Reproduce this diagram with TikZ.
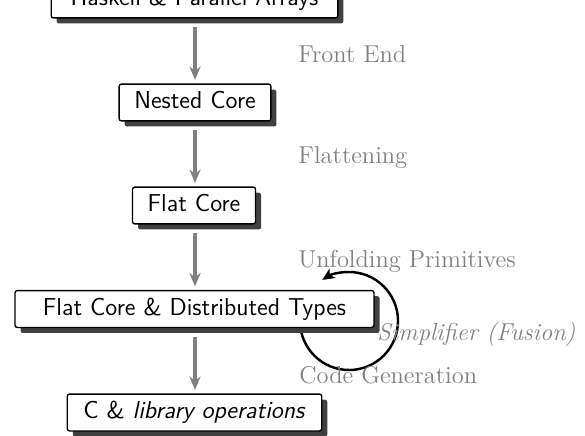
\documentclass[tikz,border=0pt]{standalone}
\usetikzlibrary{arrows.meta,shadows}
\begin{document}
\begin{tikzpicture}[x=0.45pt,y=0.45pt,
  stagebox/.style={draw=black, line width=0.6pt, fill=white, rounded corners=1pt,
    font=\fontsize{11}{13}\selectfont\sffamily, inner xsep=6.8pt, minimum height=15.8pt, text height=7.7pt, text depth=2.2pt,
    drop shadow={shadow xshift=2.5pt, shadow yshift=-2.5pt, fill=black!75, opacity=1}},
  flow/.style={draw=black!50, line width=1.4pt, shorten <=4pt, shorten >=1.6pt,
    -{Stealth[length=6pt,width=5pt,inset=2pt]}},
  passlabel/.style={text=black!50, anchor=base west, inner sep=0pt, font=\fontsize{11}{13}\selectfont}]
\useasboundingbox (0,0) rectangle (585,435);
% loop arrow (behind the boxes)
\coordinate (cc) at (349,114);
\draw[line width=1.1pt, -{Stealth[length=5.5pt,width=5pt,inset=1.5pt]}]
  ([shift={(175:22.05pt)}]cc) arc[start angle=175, end angle=483, radius=22.05pt];
% boxes
\node[stagebox, minimum width=129pt] (hs) at (194.5,435.5) {Haskell \& Parallel Arrays};
\node[stagebox] (nc) at (195,332.5) {Nested Core};
\node[stagebox] (fc) at (194,229.5) {Flat Core};
\node[stagebox, minimum width=161.5pt] (fd) at (194.5,126) {Flat Core \& Distributed Types};
\node[stagebox, minimum width=114.5pt] (co) at (194.5,22.5) {C \& \textit{library operations}};
% arrows
\draw[flow] (hs.south -| 195,0) -- (nc.north -| 195,0);
\draw[flow] (nc.south -| 195,0) -- (fc.north -| 195,0);
\draw[flow] (fc.south -| 195,0) -- (fd.north -| 195,0);
\draw[flow] (fd.south -| 195,0) -- (co.north -| 195,0);
% labels
\node[passlabel] (l1) at (298,373) {Front End};
\node[passlabel] (l2) at (298,272) {Flattening};
\node[passlabel] (l3) at (298,168) {Unfolding Primitives};
\node[passlabel] (l4) at (377,95) {\textit{Simplifier (Fusion)}};
\node[passlabel] (l5) at (299,52) {Code Generation};
\end{tikzpicture}
\end{document}
